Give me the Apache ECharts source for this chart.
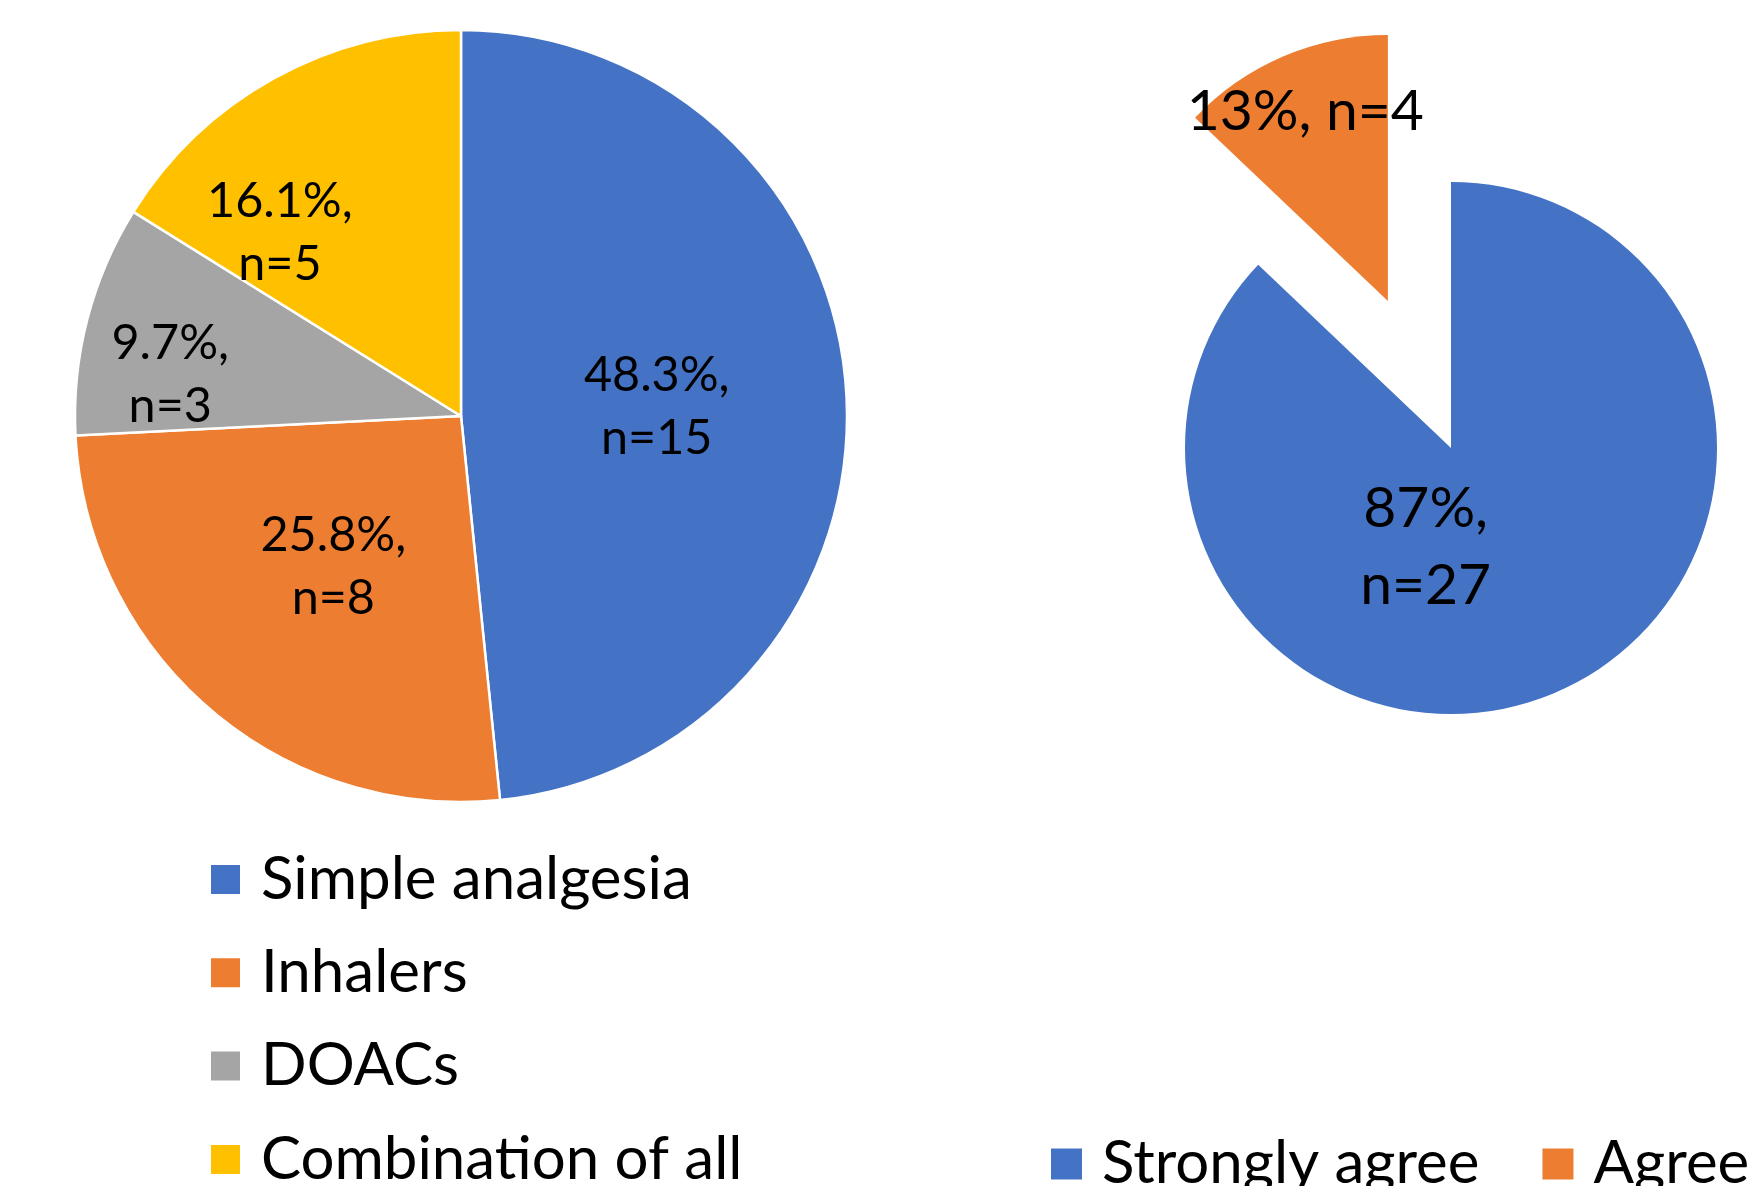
<!DOCTYPE html>
<html><head><meta charset="utf-8">
<script src="https://cdn.jsdelivr.net/npm/echarts@6/dist/echarts.min.js"></script>
<style>html,body{margin:0;padding:0;background:#fff}#c{width:1762px;height:1186px}</style>
</head><body><div id="c"></div>
<script>
// ---- data ----
const medCategories = ['Simple analgesia', 'Inhalers', 'DOACs', 'Combination of all'];
const medCounts = [15, 8, 3, 5];
const medPercentLabels = ['48.3%', '25.8%', '9.7%', '16.1%'];

const agreeCategories = ['Strongly agree', 'Agree'];
const agreeCounts = [27, 4];
const agreePercentLabels = ['87%', '13%'];

// ---- styles ----
const medColors = ['#4472C4', '#ED7D31', '#A5A5A5', '#FFC000'];
const agreeColors = ['#4472C4', '#ED7D31'];
const FONT = 'Lato';
const medLabelShift = [[0, 1], [0, 2], [-101, 8], [-86, -12]];
const agreeLabelShift = [[-79, -26], [-29, -64]];
const agreeLabelSep = [',\n', ', '];
const agreeExploded = [false, true];

const chart = echarts.init(document.getElementById('c'), null, {renderer: 'canvas'});

const LEG_FS = 60;
const option = {
  backgroundColor: '#ffffff',
  animation: false,
  legend: [
    {
      data: medCategories,
      orient: 'vertical',
      left: 209, top: 879.5 - LEG_FS / 2,
      width: 800, height: 600,
      padding: 0,
      itemWidth: 31, itemHeight: 31, itemGap: 93.3 - LEG_FS,
      icon: 'rect',
      selectedMode: false,
      textStyle: {fontFamily: FONT, fontSize: LEG_FS, color: '#000', padding: [0, 0, 0, 15]}
    },
    {
      data: agreeCategories,
      orient: 'horizontal',
      left: 1051, top: 1164 - LEG_FS / 2,
      width: 1200, height: 200,
      padding: 0,
      itemWidth: 31, itemHeight: 31, itemGap: 63,
      icon: 'rect',
      selectedMode: false,
      textStyle: {fontFamily: FONT, fontSize: LEG_FS, color: '#000', padding: [0, 0, 0, 15], width: 364, overflow: 'none'}
    }
  ],
  series: [
    {
      type: 'pie',
      center: [461, 416],
      radius: 386,
      startAngle: 90,
      clockwise: true,
      avoidLabelOverlap: false,
      emphasis: {disabled: true},
      itemStyle: {borderColor: '#ffffff', borderWidth: 2.5},
      label: {
        show: true, position: 'inside',
        fontFamily: FONT, fontSize: 48.5, lineHeight: 63, color: '#000',
        formatter: p => medPercentLabels[p.dataIndex] + ',\nn=' + medCounts[p.dataIndex]
      },
      labelLine: {show: false},
      labelLayout: p => ({dx: medLabelShift[p.dataIndex][0], dy: medLabelShift[p.dataIndex][1]}),
      data: medCategories.map((name, i) => ({name, value: medCounts[i], itemStyle: {color: medColors[i]}}))
    },
    {
      type: 'pie',
      center: [1451, 448],
      radius: 266,
      startAngle: 90,
      clockwise: true,
      avoidLabelOverlap: false,
      selectedMode: 'single',
      selectedOffset: 160,
      emphasis: {disabled: true},
      itemStyle: {borderWidth: 0},
      label: {
        show: true, position: 'inside',
        fontFamily: FONT, fontSize: 57, lineHeight: 77, color: '#000',
        formatter: p => agreePercentLabels[p.dataIndex] + agreeLabelSep[p.dataIndex] + 'n=' + agreeCounts[p.dataIndex]
      },
      labelLine: {show: false},
      labelLayout: p => ({dx: agreeLabelShift[p.dataIndex][0], dy: agreeLabelShift[p.dataIndex][1]}),
      data: agreeCategories.map((name, i) => ({
        name, value: agreeCounts[i], selected: agreeExploded[i],
        itemStyle: {color: agreeColors[i]},
        select: {itemStyle: {color: agreeColors[i]}}
      }))
    }
  ]
};
chart.setOption(option);
</script>
</body></html>
